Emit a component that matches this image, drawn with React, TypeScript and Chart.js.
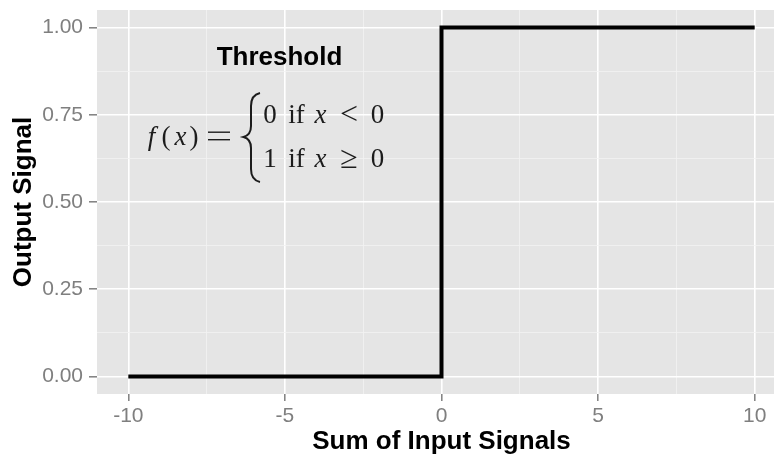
import React, { useEffect, useRef } from "react";
import { Chart, registerables } from "chart.js";

Chart.register(...registerables);

// ---- data ----
const inputSignals = [-10, 0, 0, 10];
const outputSignals = [0, 0, 1, 1];
const xGridValues = [-10, -7.5, -5, -2.5, 0, 2.5, 5, 7.5, 10];
const xLabelValues = [-10, -5, 0, 5, 10];
const yGridValues = [0, 0.125, 0.25, 0.375, 0.5, 0.625, 0.75, 0.875, 1];
const yLabelValues = [0, 0.25, 0.5, 0.75, 1];
const xTitle = "Sum of Input Signals";
const yTitle = "Output Signal";
const annotationTitle = "Threshold";

const PANEL = "#E5E5E5";
const TICK_GREY = "#7F7F7F";

const isIn = (arr: number[], v: number) => arr.some((a) => Math.abs(a - v) < 1e-9);

const panelPlugin = {
  id: "panelBg",
  beforeDraw(chart: any) {
    const { ctx, chartArea } = chart;
    ctx.save();
    ctx.fillStyle = PANEL;
    ctx.fillRect(chartArea.left, chartArea.top, chartArea.right - chartArea.left, chartArea.bottom - chartArea.top);
    ctx.restore();
  },
};

const annotationPlugin = {
  id: "formulaAnnotation",
  afterDatasetsDraw(chart: any) {
    const ctx = chart.ctx as CanvasRenderingContext2D;
    ctx.save();
    ctx.fillStyle = "#000";
    ctx.textAlign = "center";
    ctx.textBaseline = "alphabetic";
    ctx.font = "bold 26px 'Liberation Sans', Arial, sans-serif";
    ctx.fillText(annotationTitle, 279.5, 65);

    const serif = "'Liberation Serif', 'Times New Roman', serif";
    const ital = `italic 27px ${serif}`;
    const reg = `27px ${serif}`;
    const ink = "#1c1c1c";
    ctx.fillStyle = ink;
    const draw = (t: string, x: number, y: number, font: string) => {
      ctx.font = font;
      ctx.fillText(t, x, y);
    };
    // f(x) =
    draw("f", 151.5, 145, ital);
    draw("(", 166, 145, reg);
    draw("x", 180.5, 145, ital);
    draw(")", 194, 145, reg);
    ctx.fillRect(208, 131.5, 22, 1.4);
    ctx.fillRect(208, 139, 22, 1.4);
    // row 1
    draw("0", 270, 123, reg);
    draw("if", 296.5, 123, reg);
    draw("x", 320.5, 123, ital);
    draw("<", 349, 124, `32px ${serif}`);
    draw("0", 377.5, 123, reg);
    // row 2
    draw("1", 270, 167, reg);
    draw("if", 296.5, 167, reg);
    draw("x", 320.5, 167, ital);
    draw("\u2265", 349, 168, `32px ${serif}`);
    draw("0", 377.5, 167, reg);

    // brace
    ctx.strokeStyle = ink;
    ctx.lineWidth = 2;
    ctx.beginPath();
    ctx.moveTo(260, 93);
    ctx.quadraticCurveTo(251, 95, 251, 106);
    ctx.lineTo(251, 126);
    ctx.quadraticCurveTo(251, 135, 243.5, 137);
    ctx.quadraticCurveTo(251, 139, 251, 148);
    ctx.lineTo(251, 169);
    ctx.quadraticCurveTo(251, 180, 260, 182);
    ctx.stroke();
    ctx.restore();
  },
};

const zeroPad = (s: any) => {
  s.paddingTop = 0;
  s.paddingBottom = 0;
  s.paddingLeft = 0;
  s.paddingRight = 0;
};

export default function App() {
  const ref = useRef<HTMLCanvasElement | null>(null);

  useEffect(() => {
    if (!ref.current) return;
    const points = inputSignals.map((x, i) => ({ x, y: outputSignals[i] }));
    const chart = new Chart(ref.current, {
      type: "line",
      data: {
        datasets: [
          {
            data: points,
            borderColor: "#000",
            borderWidth: 4,
            pointRadius: 0,
            borderJoinStyle: "miter",
            borderCapStyle: "butt",
            tension: 0,
            fill: false,
          },
        ],
      },
      options: {
        responsive: false,
        animation: false,
        devicePixelRatio: 1,
        layout: { padding: { top: 10, left: 0, right: 0, bottom: 0 } },
        plugins: { legend: { display: false }, tooltip: { enabled: false } },
        scales: {
          x: {
            type: "linear",
            min: -11,
            max: 11,
            bounds: "data",
            afterBuildTicks: (s: any) => {
              s.ticks = xGridValues.map((v) => ({ value: v }));
            },
            afterFit: (s: any) => {
              s.height = 63;
              zeroPad(s);
            },
            border: { display: false },
            grid: {
              color: (c: any) => (isIn(xLabelValues, c.tick?.value) ? "#FFFFFF" : "#F2F2F2"),
              lineWidth: (c: any) => (isIn(xLabelValues, c.tick?.value) ? 1.6 : 0.8),
              tickColor: (c: any) => (isIn(xLabelValues, c.tick?.value) ? TICK_GREY : "rgba(0,0,0,0)"),
              tickWidth: 1.5,
              tickLength: 7,
              drawTicks: true,
            },
            ticks: {
              autoSkip: false,
              maxRotation: 0,
              padding: 3,
              color: TICK_GREY,
              font: { family: "'Liberation Sans', Arial, sans-serif", size: 21 },
              callback: (v: any) => (isIn(xLabelValues, Number(v)) ? String(v) : ""),
            },
            title: {
              display: true,
              text: xTitle,
              color: "#000",
              padding: { top: 2, bottom: 0 },
              font: { family: "'Liberation Sans', Arial, sans-serif", size: 26, weight: "bold" },
            },
          },
          y: {
            type: "linear",
            min: -0.05,
            max: 1.05,
            bounds: "data",
            afterBuildTicks: (s: any) => {
              s.ticks = yGridValues.map((v) => ({ value: v }));
            },
            afterFit: (s: any) => {
              s.width = 97;
              zeroPad(s);
            },
            border: { display: false },
            grid: {
              color: (c: any) => (isIn(yLabelValues, c.tick?.value) ? "#FFFFFF" : "#F2F2F2"),
              lineWidth: (c: any) => (isIn(yLabelValues, c.tick?.value) ? 1.6 : 0.8),
              tickColor: (c: any) => (isIn(yLabelValues, c.tick?.value) ? TICK_GREY : "rgba(0,0,0,0)"),
              tickWidth: 1.5,
              tickLength: 8,
              drawTicks: true,
            },
            ticks: {
              autoSkip: false,
              padding: 6,
              color: TICK_GREY,
              font: { family: "'Liberation Sans', Arial, sans-serif", size: 21 },
              callback: (v: any) => (isIn(yLabelValues, Number(v)) ? Number(v).toFixed(2) : ""),
            },
            title: {
              display: true,
              text: yTitle,
              color: "#000",
              padding: { top: 8, bottom: 0 },
              font: { family: "'Liberation Sans', Arial, sans-serif", size: 26, weight: "bold" },
            },
          },
        },
      },
      plugins: [panelPlugin, annotationPlugin],
    } as any);
    return () => chart.destroy();
  }, []);

  return (
    <div
      style={{
        position: "fixed",
        left: 0,
        top: 0,
        width: 774,
        height: 457,
        overflow: "hidden",
        background: "#fff",
      }}
    >
      <canvas ref={ref} width={786} height={457} style={{ display: "block", width: 786, height: 457 }} />
    </div>
  );
}
